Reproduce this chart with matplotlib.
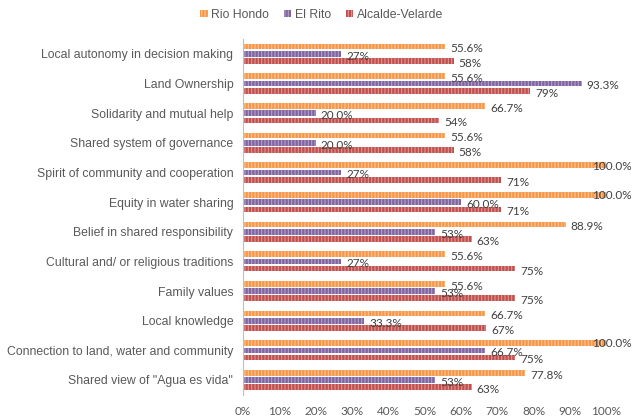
import numpy as np
import matplotlib.pyplot as plt

categories = ["Local autonomy in decision making", "Land Ownership",
              "Solidarity and mutual help", "Shared system of governance",
              "Spirit of community and cooperation", "Equity in water sharing",
              "Belief in shared responsibility", "Cultural and/ or religious traditions",
              "Family values", "Local knowledge",
              "Connection to land, water and community", 'Shared view of "Agua es vida"']
rio_hondo = [55.6, 55.6, 66.7, 55.6, 100.0, 100.0, 88.9, 55.6, 55.6, 66.7, 100.0, 77.8]
el_rito = [27, 93.3, 20.0, 20.0, 27, 60.0, 53, 27, 53, 33.3, 66.7, 53]
alcalde = [58, 79, 54, 58, 71, 71, 63, 75, 75, 67, 75, 63]
rio_labels = ["55.6%", "55.6%", "66.7%", "55.6%", "100.0%", "100.0%", "88.9%",
              "55.6%", "55.6%", "66.7%", "100.0%", "77.8%"]
rito_labels = ["27%", "93.3%", "20.0%", "20.0%", "27%", "60.0%", "53%", "27%",
               "53%", "33.3%", "66.7%", "53%"]
alc_labels = ["58%", "79%", "54%", "58%", "71%", "71%", "63%", "75%", "75%",
              "67%", "75%", "63%"]
xticks = [0, 10, 20, 30, 40, 50, 60, 70, 80, 90, 100]

plt.rcParams['hatch.linewidth'] = 0.8
fig = plt.figure(figsize=(6.32, 4.2), dpi=100)
ax = fig.add_axes([0.3845, 0.06, 0.5745, 0.847])

y = np.arange(len(categories))
h = 0.19
off = 0.245
series = [
    ("Rio Hondo", rio_hondo, rio_labels, "#F79646", "#FBC596", -off),
    ("El Rito", el_rito, rito_labels, "#8064A2", "#B3A2C7", 0),
    ("Alcalde-Velarde", alcalde, alc_labels, "#C0504D", "#E09694", off),
]
for name, vals, labs, fc, hc, dy in series:
    ax.barh(y + dy, vals, height=h, color=fc, edgecolor=hc, linewidth=0,
            hatch="|||||", label=name)
    for yi, v, t in zip(y + dy, vals, labs):
        if v >= 100:
            # no room at the right edge: pull the label back over the bar
            ax.text(107, yi + 0.03, t, va="center", ha="right", fontsize=8.5,
                    color="#404040", family="Lato", clip_on=False)
        else:
            ax.text(v + 1.4, yi + 0.08, t, va="center", ha="left", fontsize=8.5,
                    color="#404040", family="Lato")

ax.set_ylim(len(categories) - 0.5, -0.5)
ax.set_xlim(0, 100)
ax.set_yticks(y)
ax.set_yticklabels(categories, fontsize=8.8, color="#595959", family="Liberation Sans")
ax.set_xticks(xticks)
ax.set_xticklabels([f"{t}%" for t in xticks], fontsize=8.5, color="#595959", family="Lato")
ax.tick_params(length=0)
ax.tick_params(axis="x", pad=8)
ax.tick_params(axis="y", pad=7)
for s in ["top", "right", "bottom"]:
    ax.spines[s].set_visible(False)
ax.spines["left"].set_color("#BFBFBF")

leg = fig.legend(loc="upper center", bbox_to_anchor=(0.509, 1.005), ncol=3,
                 frameon=False, handlelength=0.6, handleheight=0.6, handletextpad=0.3,
                 columnspacing=1.2, prop={"family": "Liberation Sans", "size": 8.8})
for t in leg.get_texts():
    t.set_color("#595959")

fig.savefig("out.png", dpi=100)
